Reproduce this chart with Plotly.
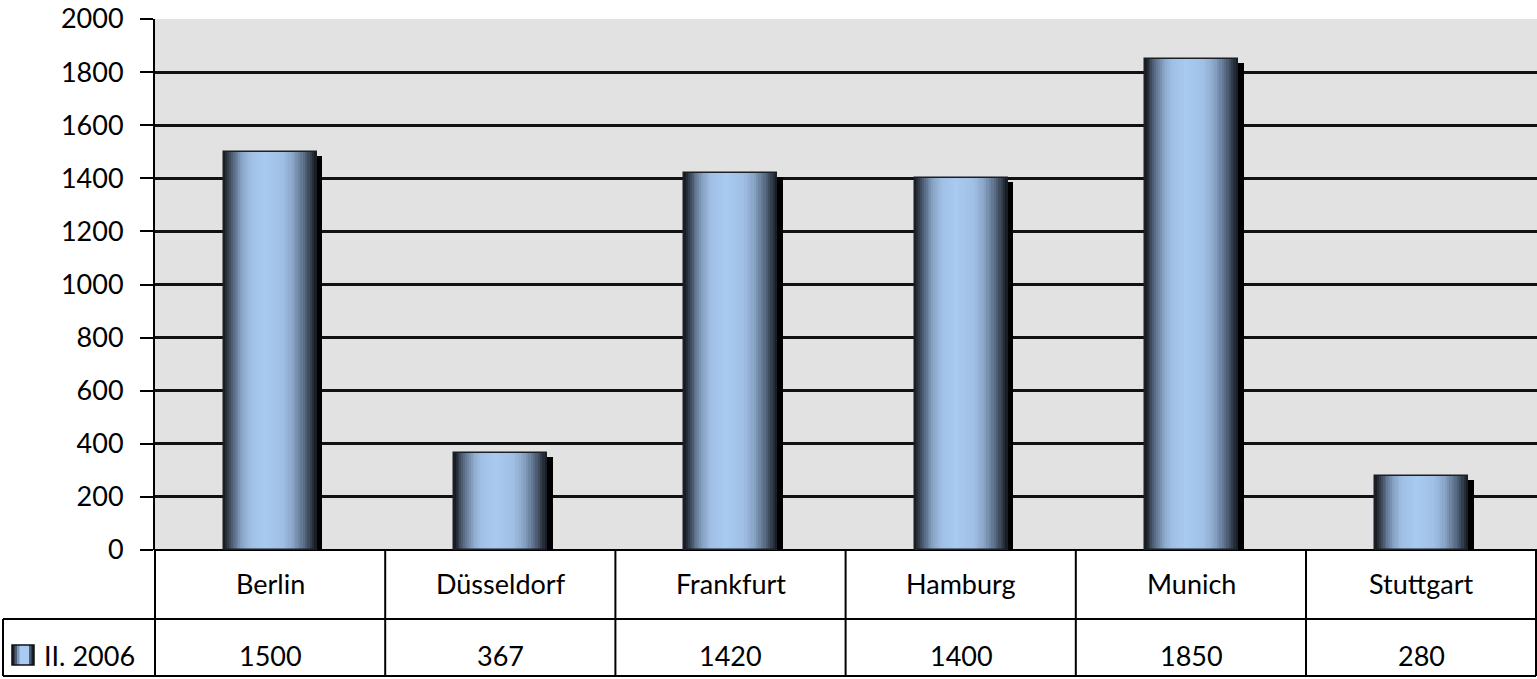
import plotly.graph_objects as go

categories = ["Berlin", "Düsseldorf", "Frankfurt", "Hamburg", "Munich", "Stuttgart"]
values = [1500, 367, 1420, 1400, 1850, 280]
series_name = "II. 2006"
y_ticks = [0, 200, 400, 600, 800, 1000, 1200, 1400, 1600, 1800, 2000]

FIG_W, FIG_H = 1537, 679
M_L, M_R, M_T, M_B = 155, 0, 19, 129
PLOT_W = FIG_W - M_L - M_R
PLOT_H = FIG_H - M_T - M_B
FONT = "Lato"
FS = 27


def px_x(px):
    return (px - M_L) / PLOT_W


def px_y(py):
    return (FIG_H - M_B - py) / PLOT_H


def hex2rgb(h):
    h = h.lstrip("#")
    return tuple(int(h[i:i + 2], 16) for i in (0, 2, 4))


stops = [(0.0, "#111419"), (0.1, "#2f3846"), (0.25, "#5a6d86"), (0.45, "#88a4c6"),
         (0.65, "#a0bfe4"), (1.0, "#a9caf1")]


def color_at(t):
    for (t0, c0), (t1, c1) in zip(stops[:-1], stops[1:]):
        if t <= t1:
            f = (t - t0) / (t1 - t0) if t1 > t0 else 0
            a, b = hex2rgb(c0), hex2rgb(c1)
            return "rgb(%d,%d,%d)" % tuple(round(a[i] + (b[i] - a[i]) * f) for i in range(3))
    return stops[-1][1]


fig = go.Figure()

W = 0.405
PEAK = 0.44
# shadow
fig.add_trace(go.Bar(x=categories, y=[v - 15 for v in values], width=W,
                     offset=-W / 2 + 0.024, marker=dict(color="#000000", line=dict(width=0)),
                     hoverinfo="skip", showlegend=False))
N = 22
for k in range(N):
    t = k / N
    left = PEAK * t
    right = 1 - (1 - PEAK) * t
    fig.add_trace(go.Bar(x=categories, y=values, width=(right - left) * W,
                         offset=-W / 2 + left * W,
                         marker=dict(color=color_at(t + 0.5 / N), line=dict(width=0)),
                         hoverinfo="skip", showlegend=False))
# outline on top
fig.add_trace(go.Bar(x=categories, y=values, width=W, offset=-W / 2,
                     marker=dict(color="rgba(0,0,0,0)", line=dict(width=1.5, color="#1b1f26")),
                     name=series_name, showlegend=False))

shapes = []
line = dict(color="#000000", width=2)
# table horizontal lines
for py in (619, 676):
    shapes.append(dict(type="line", xref="paper", yref="paper", x0=px_x(3), x1=px_x(1536),
                       y0=px_y(py), y1=px_y(py), line=line))
shapes.append(dict(type="line", xref="paper", yref="paper", x0=px_x(3), x1=px_x(3),
                   y0=px_y(619), y1=px_y(676), line=line))
for i in range(len(categories) + 1):
    xp = 155 + i * 230.2 if i < len(categories) else 1536
    shapes.append(dict(type="line", xref="paper", yref="paper", x0=px_x(xp), x1=px_x(xp),
                       y0=px_y(550), y1=px_y(676), line=line))
# legend key
key_cols = ["#1b1f26", "#4a5a70", "#7d97b8", "#a9caf1"]
for j, c in enumerate(key_cols):
    shapes.append(dict(type="rect", xref="paper", yref="paper",
                       x0=px_x(12 + j * 2.5), x1=px_x(34 - j * 2.5 if j < 3 else 34 - 5),
                       y0=px_y(665), y1=px_y(645), fillcolor=c, line=dict(width=0)))
shapes.append(dict(type="rect", xref="paper", yref="paper", x0=px_x(12), x1=px_x(34),
                   y0=px_y(665), y1=px_y(645), line=dict(color="#111", width=1.5)))

annotations = []
for c, v in zip(categories, values):
    annotations.append(dict(x=c, xref="x", yref="paper", y=px_y(583), text=c, showarrow=False,
                            font=dict(family=FONT, size=FS, color="#000"), xanchor="center", yanchor="middle"))
    annotations.append(dict(x=c, xref="x", yref="paper", y=px_y(655), text=str(v), showarrow=False,
                            font=dict(family=FONT, size=FS, color="#000"), xanchor="center", yanchor="middle"))
annotations.append(dict(x=px_x(42), xref="paper", yref="paper", y=px_y(655), text=series_name,
                        showarrow=False, font=dict(family=FONT, size=FS, color="#000"),
                        xanchor="left", yanchor="middle"))

fig.update_layout(
    width=FIG_W, height=FIG_H,
    margin=dict(l=M_L, r=M_R, t=M_T, b=M_B, pad=0),
    paper_bgcolor="#ffffff", plot_bgcolor="#e2e2e2",
    barmode="overlay", bargap=0,
    shapes=shapes, annotations=annotations,
    showlegend=False,
    font=dict(family=FONT, size=FS, color="#000"),
)
fig.update_xaxes(type="category", range=[-0.5, 5.5], showticklabels=False, showgrid=False,
                 zeroline=False, showline=False, ticks="")
fig.update_yaxes(range=[0, 2000], tickvals=y_ticks, showgrid=True, gridcolor="#111111", gridwidth=2.5,
                 zeroline=True, zerolinecolor="#000", zerolinewidth=2,
                 showline=True, linecolor="#000", linewidth=2,
                 ticks="outside", ticklen=13, tickwidth=2, tickcolor="#000",
                 tickfont=dict(family=FONT, size=FS, color="#000"), ticklabelstandoff=11)

fig.write_html("out.html", config={"displayModeBar": False},
               post_script="document.body.style.margin='0';document.body.style.overflow='hidden';")
